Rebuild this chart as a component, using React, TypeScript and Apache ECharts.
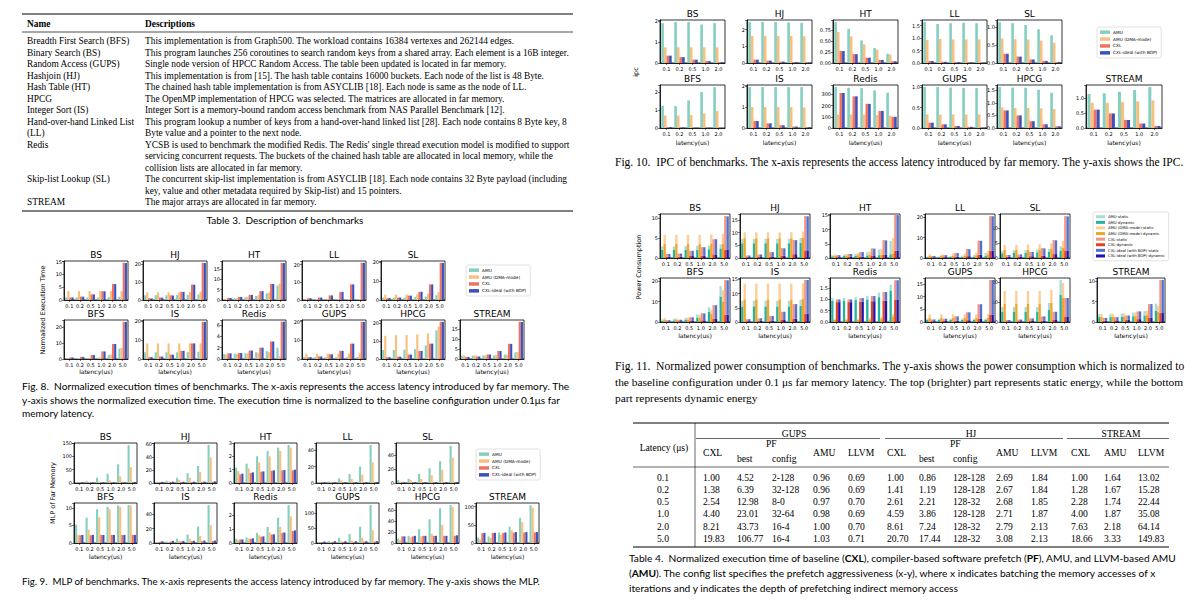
import React, { useEffect, useRef } from "react";
import * as echarts from "echarts";

// ---------- categories / labels ----------
const LAT6 = ["0.1", "0.2", "0.5", "1.0", "2.0", "5.0"];
const LAT5 = ["0.1", "0.2", "0.5", "1.0", "2.0"];
const ROW1 = ["BS", "HJ", "HT", "LL", "SL"];
const ROW2 = ["BFS", "IS", "Redis", "GUPS", "HPCG", "STREAM"];
const SERIES4 = ["AMU", "AMU (DMA-mode)", "CXL", "CXL-ideal (with BOP)"];
const SERIES8 = [
  "AMU-static", "AMU-dynamic", "AMU (DMA-mode)-static", "AMU (DMA-mode)-dynamic",
  "CXL-static", "CXL-dynamic", "CXL-ideal (with BOP)-static", "CXL-ideal (with BOP)-dynamic",
];

// ---------- Fig. 8: normalized execution time ----------
const execBS = { amu: [1.0, 1.0, 1.0, 1.0, 1.1, 1.3], dma: [3.5, 3.5, 3.5, 3.5, 3.5, 3.5], cxl: [1.0, 1.3, 2.2, 3.4, 6.2, 14.5], idl: [1.0, 1.3, 2.2, 3.4, 6.2, 14.4] };
const execHJ = { amu: [2.69, 2.67, 2.68, 2.71, 2.79, 3.08], dma: [4.3, 4.3, 4.3, 4.3, 4.4, 4.6], cxl: [1.0, 1.41, 2.61, 4.59, 8.61, 20.7], idl: [0.9, 1.3, 2.5, 4.5, 8.5, 20.6] };
const execHT = { amu: [0.4, 0.8, 1.3, 2.0, 3.2, 7.0], dma: [0.5, 0.9, 1.5, 2.3, 3.6, 8.0], cxl: [1.0, 1.5, 2.5, 4.3, 7.8, 18.0], idl: [1.0, 1.5, 2.5, 4.3, 7.8, 18.0] };
const execLL = { amu: [0.3, 0.3, 0.3, 0.3, 0.4, 0.4], dma: [0.5, 0.5, 0.5, 0.5, 0.6, 0.6], cxl: [1.0, 1.4, 2.6, 4.6, 8.8, 21.0], idl: [1.0, 1.4, 2.6, 4.6, 8.8, 21.0] };
const execSL = { amu: [1.2, 1.2, 1.3, 1.5, 1.8, 2.5], dma: [2.8, 2.8, 2.8, 3.0, 3.3, 4.2], cxl: [1.0, 1.3, 2.3, 4.3, 8.2, 19.5], idl: [1.0, 1.3, 2.3, 4.3, 8.2, 19.5] };
const execBFS = { amu: [0.3, 0.4, 0.5, 0.8, 2.5, 6.5], dma: [0.5, 0.6, 0.8, 1.0, 2.8, 7.0], cxl: [1.0, 1.3, 2.5, 4.8, 9.5, 23.5], idl: [1.0, 1.3, 2.5, 4.8, 9.5, 23.5] };
const execIS = { amu: [3.5, 3.5, 3.5, 3.5, 3.6, 3.8], dma: [8.2, 8.2, 8.2, 8.2, 8.2, 8.2], cxl: [1.0, 1.3, 2.3, 4.3, 8.2, 19.5], idl: [1.0, 1.3, 2.3, 4.3, 8.2, 19.5] };
const execRedis = { amu: [0.9, 0.95, 1.0, 1.2, 1.4, 2.0], dma: [0.8, 0.9, 1.0, 1.1, 1.2, 0.5], cxl: [1.0, 1.05, 1.5, 2.0, 3.1, 6.6], idl: [1.0, 1.05, 1.5, 2.0, 3.1, 6.6] };
const execGUPS = { amu: [0.96, 0.96, 0.97, 0.98, 1.0, 1.03], dma: [2.8, 2.8, 2.8, 2.8, 2.9, 3.0], cxl: [1.0, 1.38, 2.54, 4.4, 8.21, 19.83], idl: [1.0, 1.35, 2.5, 4.35, 8.2, 19.8] };
const execHPCG = { amu: [5.0, 5.0, 5.2, 5.5, 7.5, 16.0], dma: [13.0, 13.3, 13.5, 13.8, 14.3, 18.0], cxl: [1.0, 1.3, 2.5, 4.5, 8.6, 20.8], idl: [1.0, 1.3, 2.5, 4.5, 8.6, 20.8] };
const execSTREAM = { amu: [1.64, 1.67, 1.74, 1.87, 2.18, 3.33], dma: [1.8, 1.8, 1.9, 2.0, 2.2, 3.5], cxl: [1.0, 1.28, 2.28, 4.0, 7.63, 18.66], idl: [1.0, 1.25, 2.25, 4.0, 7.6, 18.6] };

// ---------- Fig. 9: MLP of far memory ----------
const mlpBS = { amu: [3, 7, 20, 35, 70, 142], dma: [1, 2, 5, 10, 25, 60], cxl: [1.5, 1.5, 1.8, 2, 2, 2.2], idl: [2, 2, 2.5, 3, 3, 3.5] };
const mlpHJ = { amu: [2, 3.5, 8, 15, 26, 58], dma: [1, 2, 5, 8, 17, 39], cxl: [1.2, 1.3, 1.5, 1.5, 1.6, 1.8], idl: [1.8, 2, 2, 2, 2.2, 2.5] };
const mlpHT = { amu: [1.15, 1.45, 2.0, 2.4, 2.65, 2.85], dma: [0.9, 1.1, 1.55, 2.0, 2.4, 2.65], cxl: [0.65, 0.75, 0.85, 0.92, 0.95, 0.95], idl: [0.7, 0.8, 0.87, 0.95, 0.97, 1.0] };
const mlpLL = { amu: [1, 2, 5.5, 11, 20, 46], dma: [0.5, 1, 3, 5, 10, 25], cxl: [0.6, 0.7, 0.8, 0.8, 0.8, 0.9], idl: [0.9, 1, 1, 1, 1.1, 1.2] };
const mlpSL = { amu: [4, 6, 13, 21, 31, 53], dma: [2, 4, 6, 11, 19, 36], cxl: [0.8, 0.9, 1, 1, 1, 1.1], idl: [1.1, 1.2, 1.2, 1.3, 1.3, 1.4] };
const mlpBFS = { amu: [5.2, 7.2, 9.6, 10.3, 10.7, 10.8], dma: [2.3, 3.8, 7.3, 9.6, 10.3, 10.7], cxl: [2.2, 2.2, 2.3, 2.3, 2.3, 2.3], idl: [2.3, 2.3, 2.3, 2.3, 2.3, 2.3] };
const mlpIS = { amu: [1.5, 2, 6, 12, 23, 53], dma: [1, 1.5, 3, 6, 10, 25], cxl: [2, 2, 2.2, 2.5, 2.5, 2.8], idl: [2.5, 3, 3, 3, 3.5, 3.5] };
const mlpRedis = { amu: [0.3, 0.4, 0.72, 1.15, 1.8, 2.7], dma: [0.2, 0.3, 0.55, 0.75, 1.15, 1.9], cxl: [0.25, 0.3, 0.45, 0.6, 0.72, 0.85], idl: [0.25, 0.33, 0.47, 0.62, 0.75, 0.9] };
const mlpGUPS = { amu: [3, 7, 17, 30, 55, 128], dma: [2, 3, 6, 9, 18, 43], cxl: [3, 4, 4, 4, 5, 5], idl: [5, 6, 6, 6, 6, 6] };
const mlpHPCG = { amu: [8, 13, 25, 43, 63, 69], dma: [5, 10, 12, 17, 33, 65], cxl: [12, 12, 13, 13, 13, 13], idl: [12, 13, 13, 13, 13, 14] };
const mlpSTREAM = { amu: [15, 18, 29, 45, 69, 104], dma: [10, 14, 22, 35, 57, 97], cxl: [27, 28, 28, 29, 29, 29], idl: [28, 28, 29, 30, 30, 30] };

// ---------- Fig. 10: IPC ----------
const ipcBS = { amu: [1.9, 1.95, 1.95, 1.83, 1.9], dma: [0.75, 0.75, 0.75, 0.75, 0.75], cxl: [0.35, 0.28, 0.16, 0.09, 0.04], idl: [0.35, 0.28, 0.16, 0.09, 0.04] };
const ipcHJ = { amu: [2.45, 2.45, 2.45, 2.43, 2.4], dma: [1.62, 1.62, 1.62, 1.62, 1.6], cxl: [0.2, 0.14, 0.08, 0.05, 0.03], idl: [0.2, 0.14, 0.08, 0.05, 0.03] };
const ipcHT = { amu: [0.92, 0.77, 0.51, 0.34, 0.21], dma: [0.7, 0.6, 0.42, 0.3, 0.19], cxl: [0.27, 0.2, 0.12, 0.07, 0.04], idl: [0.27, 0.2, 0.12, 0.07, 0.04] };
const ipcLL = { amu: [1.65, 1.57, 1.6, 1.62, 1.6], dma: [0.92, 0.97, 0.95, 0.95, 0.95], cxl: [0.08, 0.05, 0.03, 0.02, 0.01], idl: [0.08, 0.05, 0.03, 0.02, 0.01] };
const ipcSL = { amu: [1.15, 1.12, 1.07, 0.95, 0.78], dma: [0.69, 0.67, 0.66, 0.63, 0.57], cxl: [0.26, 0.18, 0.1, 0.06, 0.03], idl: [0.26, 0.18, 0.1, 0.06, 0.03] };
const ipcBFS = { amu: [1.25, 1.23, 1.55, 2.02, 2.3], dma: [0.7, 0.7, 0.73, 0.82, 0.95], cxl: [0.05, 0.03, 0.01, 0.01, 0.005], idl: [0.05, 0.03, 0.01, 0.01, 0.005] };
const ipcIS = { amu: [1.95, 1.95, 1.95, 1.95, 1.95], dma: [1.0, 1.0, 1.0, 1.0, 0.98], cxl: [0.33, 0.22, 0.13, 0.07, 0.04], idl: [0.33, 0.22, 0.13, 0.07, 0.04] };
const ipcRedis = { amu: [365, 358, 355, 335, 315], dma: [120, 120, 120, 115, 110], cxl: [312, 282, 215, 152, 100], idl: [312, 282, 215, 152, 100] };
const ipcGUPS = { amu: [1.0, 1.0, 0.99, 0.98, 0.98], dma: [0.33, 0.33, 0.33, 0.33, 0.33], cxl: [0.13, 0.09, 0.05, 0.03, 0.01], idl: [0.13, 0.09, 0.05, 0.03, 0.01] };
const ipcHPCG = { amu: [1.63, 1.61, 1.6, 1.52, 1.4], dma: [0.82, 0.8, 0.8, 0.78, 0.75], cxl: [0.7, 0.5, 0.27, 0.15, 0.07], idl: [0.7, 0.5, 0.27, 0.15, 0.07] };
const ipcSTREAM = { amu: [1.15, 1.17, 1.22, 1.28, 1.38], dma: [0.85, 0.85, 0.87, 0.9, 0.93], cxl: [0.62, 0.49, 0.27, 0.15, 0.07], idl: [0.62, 0.49, 0.27, 0.15, 0.07] };

// ---------- Fig. 11: power consumption (static on top of dynamic) ----------
const pwBS = { amuS: [0.9, 0.9, 0.9, 1.0, 0.9, 1.0], amuD: [2.0, 2.0, 2.1, 2.1, 2.2, 2.4], dmaS: [2.2, 2.2, 2.2, 2.2, 2.3, 2.4], dmaD: [3.6, 3.6, 3.6, 3.6, 3.6, 3.6], cxlS: [0.7, 0.8, 1.3, 2.1, 3.8, 8.5], cxlD: [0.3, 0.3, 0.5, 0.6, 0.9, 2.0], idlS: [0.7, 0.8, 1.3, 2.1, 3.8, 8.4], idlD: [0.3, 0.3, 0.5, 0.6, 0.9, 2.0] };
const pwHJ = { amuS: [1.7, 1.7, 1.7, 1.7, 1.7, 1.9], amuD: [5.8, 5.8, 5.8, 5.8, 5.8, 6.0], dmaS: [2.3, 2.3, 2.3, 2.3, 2.3, 2.4], dmaD: [7.8, 7.8, 7.8, 7.8, 7.8, 8.0], cxlS: [0.7, 1.0, 1.7, 3.0, 5.6, 13.5], cxlD: [0.3, 0.4, 0.6, 0.9, 1.5, 3.0], idlS: [0.7, 1.0, 1.7, 2.9, 5.5, 13.4], idlD: [0.3, 0.4, 0.6, 0.9, 1.5, 3.0] };
const pwHT = { amuS: [0.4, 0.5, 0.7, 1.1, 2.0, 4.7], amuD: [0.6, 0.7, 0.8, 0.9, 1.0, 1.3], dmaS: [0.4, 0.5, 0.7, 1.1, 2.0, 5.4], dmaD: [0.8, 0.9, 1.0, 1.1, 1.2, 1.6], cxlS: [0.7, 1.0, 1.6, 2.7, 5.2, 12.7], cxlD: [0.3, 0.4, 0.5, 0.7, 1.1, 2.5], idlS: [0.7, 1.0, 1.6, 2.6, 5.1, 12.6], idlD: [0.3, 0.4, 0.5, 0.7, 1.1, 2.5] };
const pwLL = { amuS: [0.3, 0.4, 0.5, 0.6, 0.8, 1.5], amuD: [0.4, 0.4, 0.5, 0.6, 0.7, 1.0], dmaS: [0.8, 0.7, 1.0, 1.0, 1.2, 1.8], dmaD: [1.0, 1.0, 1.2, 1.2, 1.4, 1.8], cxlS: [0.7, 1.0, 1.8, 3.5, 6.9, 16.9], cxlD: [0.3, 0.4, 0.6, 0.9, 1.6, 3.6], idlS: [0.7, 1.0, 1.8, 3.4, 6.8, 16.8], idlD: [0.3, 0.4, 0.6, 0.9, 1.6, 3.6] };
const pwSL = { amuS: [0.7, 0.8, 0.8, 0.9, 1.0, 1.4], amuD: [1.6, 1.8, 1.8, 1.9, 2.0, 2.5], dmaS: [1.6, 1.6, 1.7, 1.7, 1.9, 2.3], dmaD: [2.8, 2.8, 2.8, 2.9, 3.0, 3.4], cxlS: [0.6, 0.7, 1.4, 2.5, 4.7, 11.5], cxlD: [0.4, 0.5, 0.6, 0.8, 1.3, 2.5], idlS: [0.6, 0.7, 1.4, 2.4, 4.6, 11.4], idlD: [0.4, 0.5, 0.6, 0.8, 1.3, 2.5] };
const pwBFS = { amuS: [0.7, 0.8, 0.8, 1.5, 2.2, 5.0], amuD: [0.6, 0.8, 1.2, 2.2, 5.0, 12.5], dmaS: [1.0, 0.8, 0.9, 1.3, 2.0, 5.5], dmaD: [1.0, 1.0, 1.3, 2.0, 4.0, 10.0], cxlS: [0.7, 0.8, 1.8, 3.5, 6.8, 16.9], cxlD: [0.2, 0.3, 0.5, 0.8, 1.5, 3.6], idlS: [0.7, 0.8, 1.8, 3.4, 6.7, 16.8], idlD: [0.2, 0.3, 0.5, 0.8, 1.5, 3.6] };
const pwIS = { amuS: [2.0, 2.0, 2.0, 2.0, 2.0, 2.1], amuD: [5.5, 5.5, 5.5, 5.5, 5.5, 5.7], dmaS: [5.5, 5.5, 5.5, 5.5, 5.5, 5.5], dmaD: [8.0, 8.0, 8.0, 8.0, 8.0, 8.1], cxlS: [0.7, 0.9, 1.6, 2.9, 5.1, 12.0], cxlD: [0.3, 0.4, 0.5, 0.7, 1.2, 2.8], idlS: [0.7, 0.9, 1.6, 2.9, 5.1, 12.0], idlD: [0.3, 0.4, 0.5, 0.7, 1.2, 2.8] };
const pwRedis = { amuS: [0.14, 0.12, 0.13, 0.15, 0.2, 0.25], amuD: [0.93, 0.95, 0.97, 1.0, 1.1, 1.4], dmaS: [0.05, 0.05, 0.05, 0.06, 0.07, 0.1], dmaD: [0.1, 0.1, 0.1, 0.12, 0.15, 0.25], cxlS: [0.12, 0.12, 0.16, 0.23, 0.38, 0.85], cxlD: [0.88, 0.88, 0.9, 0.92, 0.95, 1.0], idlS: [0.12, 0.12, 0.16, 0.23, 0.38, 0.85], idlD: [0.88, 0.88, 0.9, 0.92, 0.95, 1.0] };
const pwGUPS = { amuS: [0.5, 0.5, 0.5, 0.5, 0.5, 0.5], amuD: [0.8, 0.8, 0.8, 0.8, 0.8, 0.8], dmaS: [1.4, 1.4, 1.4, 1.4, 1.4, 1.4], dmaD: [1.6, 1.6, 1.6, 1.6, 1.6, 1.7], cxlS: [0.7, 0.9, 1.7, 3.1, 5.8, 13.6], cxlD: [0.3, 0.4, 0.5, 0.7, 1.2, 2.9], idlS: [0.7, 0.9, 1.7, 3.1, 5.8, 13.6], idlD: [0.3, 0.4, 0.5, 0.7, 1.2, 2.9] };
const pwHPCG = { amuS: [2.5, 2.5, 2.5, 2.5, 3.5, 7.5], amuD: [5.0, 5.0, 5.0, 5.0, 6.0, 13.5], dmaS: [6.5, 6.5, 6.5, 6.5, 6.5, 7.5], dmaD: [9.0, 9.0, 9.0, 9.0, 9.5, 12.0], cxlS: [0.7, 0.8, 1.3, 2.1, 4.1, 9.5], cxlD: [0.3, 0.4, 0.5, 0.7, 1.0, 2.5], idlS: [0.7, 0.8, 1.3, 2.1, 4.1, 9.5], idlD: [0.3, 0.4, 0.5, 0.7, 1.0, 2.5] };
const pwSTREAM = { amuS: [0.7, 0.7, 0.8, 0.9, 1.1, 1.7], amuD: [1.2, 1.3, 1.3, 1.4, 1.6, 2.8], dmaS: [0.7, 0.7, 0.7, 0.9, 1.1, 1.5], dmaD: [1.3, 1.3, 1.4, 1.5, 1.7, 2.5], cxlS: [0.7, 0.8, 1.1, 1.9, 3.4, 8.1], cxlD: [0.3, 0.4, 0.5, 0.7, 1.0, 2.2], idlS: [0.7, 0.8, 1.1, 1.9, 3.4, 8.1], idlD: [0.3, 0.4, 0.5, 0.7, 1.0, 2.2] };

// ---------- Table 4 ----------
const T4_LAT = ["0.1", "0.2", "0.5", "1.0", "2.0", "5.0"];
const T4_GUPS_CXL = [1.0, 1.38, 2.54, 4.4, 8.21, 19.83];
const T4_GUPS_PFBEST = [4.52, 6.39, 12.98, 23.01, 43.73, 106.77];
const T4_GUPS_PFCFG = ["2-128", "32-128", "8-0", "32-64", "16-4", "16-4"];
const T4_GUPS_AMU = [0.96, 0.96, 0.97, 0.98, 1.0, 1.03];
const T4_GUPS_LLVM = [0.69, 0.69, 0.7, 0.69, 0.7, 0.71];
const T4_HJ_CXL = [1.0, 1.41, 2.61, 4.59, 8.61, 20.7];
const T4_HJ_PFBEST = [0.86, 1.19, 2.21, 3.86, 7.24, 17.44];
const T4_HJ_PFCFG = ["128-128", "128-128", "128-32", "128-128", "128-32", "128-32"];
const T4_HJ_AMU = [2.69, 2.67, 2.68, 2.71, 2.79, 3.08];
const T4_HJ_LLVM = [1.84, 1.84, 1.85, 1.87, 2.13, 2.13];
const T4_ST_CXL = [1.0, 1.28, 2.28, 4.0, 7.63, 18.66];
const T4_ST_AMU = [1.64, 1.67, 1.74, 1.87, 2.18, 3.33];
const T4_ST_LLVM = [13.02, 15.28, 22.44, 35.08, 64.14, 149.83];

// ---------- Table 3 ----------
const T3_ROWS: [string, string][] = [
  ["Breadth First Search (BFS)", "This implementation is from Graph500. The workload contains 16384 vertexes and 262144 edges."],
  ["Binary Search (BS)", "This program launches 256 coroutines to search random keys from a shared array. Each element is a 16B integer."],
  ["Random Access (GUPS)", "Single node version of HPCC Random Access. The table been updated is located in far memory."],
  ["Hashjoin (HJ)", "This implementation is from [15]. The hash table contains 16000 buckets. Each node of the list is 48 Byte."],
  ["Hash Table (HT)", "The chained hash table implementation is from ASYCLIB [18]. Each node is same as the node of LL."],
  ["HPCG", "The OpenMP implementation of HPCG was selected. The matrices are allocated in far memory."],
  ["Integer Sort (IS)", "Integer Sort is a memory-bound random access benchmark from NAS Parallel Benchmark [12]."],
  ["Hand-over-hand Linked List", "This program lookup a number of keys from a hand-over-hand linked list [28]. Each node contains 8 Byte key, 8"],
  ["(LL)", "Byte value and a pointer to the next node."],
  ["Redis", "YCSB is used to benchmark the modified Redis. The Redis' single thread execution model is modified to support"],
  ["", "servicing concurrent requests. The buckets of the chained hash table are allocated in local memory, while the"],
  ["", "collision lists are allocated in far memory."],
  ["Skip-list Lookup (SL)", "The concurrent skip-list implementation is from ASYCLIB [18]. Each node contains 32 Byte payload (including"],
  ["", "key, value and other metadata required by Skip-list) and 15 pointers."],
  ["STREAM", "The major arrays are allocated in far memory."],
];

// ---------- styles ----------
const DV = '"DejaVu Sans", sans-serif';
const SERIF = '"Liberation Serif", "DejaVu Serif", serif';
const SANS = 'Lato, "Liberation Sans", sans-serif';
const C4 = ["#84cfc1", "#f8bf7f", "#f07262", "#3852bd"];
const C8 = ["#a7ddd5", "#22b3a1", "#fccd94", "#f5a42a", "#f39583", "#df431f", "#4e71d5", "#1c12b3"];

type Quad = { amu: number[]; dma: number[]; cxl: number[]; idl: number[] };
type Oct = { amuS: number[]; amuD: number[]; dmaS: number[]; dmaD: number[]; cxlS: number[]; cxlD: number[]; idlS: number[]; idlD: number[] };

// panel axis settings: [yMax, interval, decimals]
const AX8: Record<string, [number, number, number]> = { BS: [15.2, 5, 0], HJ: [21.7, 10, 0], HT: [19, 5, 0], LL: [22, 10, 0], SL: [20.5, 10, 0], BFS: [24.7, 10, 0], IS: [20.5, 10, 0], Redis: [6.9, 2, 0], GUPS: [20.8, 10, 0], HPCG: [21.8, 10, 0], STREAM: [19.6, 5, 0] };
const AX9: Record<string, [number, number, number]> = { BS: [150.5, 50, 0], HJ: [61, 20, 0], HT: [3.0, 1, 0], LL: [48.5, 20, 0], SL: [57, 20, 0], BFS: [11.4, 5, 0], IS: [56, 20, 0], Redis: [2.85, 1, 0], GUPS: [135, 50, 0], HPCG: [72.5, 20, 0], STREAM: [110, 50, 0] };
const AX10: Record<string, [number, number, number]> = { BS: [2.05, 1, 0], HJ: [2.57, 1, 0], HT: [0.97, 0.25, 2], LL: [1.73, 0.5, 1], SL: [1.21, 0.5, 1], BFS: [2.42, 1, 0], IS: [2.05, 1, 0], Redis: [383, 100, 0], GUPS: [1.05, 0.5, 1], HPCG: [1.71, 0.5, 1], STREAM: [1.45, 0.5, 1] };
const AX11: Record<string, [number, number, number]> = { BS: [11, 5, 0], HJ: [17.3, 5, 0], HT: [15.5, 5, 0], LL: [21.5, 10, 0], SL: [14.7, 5, 0], BFS: [21.5, 10, 0], IS: [15.5, 5, 0], Redis: [1.95, 0.5, 1], GUPS: [17.3, 5, 0], HPCG: [22, 10, 0], STREAM: [10.8, 5, 0] };

const D8: Record<string, Quad> = { BS: execBS, HJ: execHJ, HT: execHT, LL: execLL, SL: execSL, BFS: execBFS, IS: execIS, Redis: execRedis, GUPS: execGUPS, HPCG: execHPCG, STREAM: execSTREAM };
const D9: Record<string, Quad> = { BS: mlpBS, HJ: mlpHJ, HT: mlpHT, LL: mlpLL, SL: mlpSL, BFS: mlpBFS, IS: mlpIS, Redis: mlpRedis, GUPS: mlpGUPS, HPCG: mlpHPCG, STREAM: mlpSTREAM };
const D10: Record<string, Quad> = { BS: ipcBS, HJ: ipcHJ, HT: ipcHT, LL: ipcLL, SL: ipcSL, BFS: ipcBFS, IS: ipcIS, Redis: ipcRedis, GUPS: ipcGUPS, HPCG: ipcHPCG, STREAM: ipcSTREAM };
const D11: Record<string, Oct> = { BS: pwBS, HJ: pwHJ, HT: pwHT, LL: pwLL, SL: pwSL, BFS: pwBFS, IS: pwIS, Redis: pwRedis, GUPS: pwGUPS, HPCG: pwHPCG, STREAM: pwSTREAM };

// figure layouts (pixels)
const L8 = { cols1: [64, 143, 222, 302, 381], cols2: [64, 143, 222, 302, 381, 460], w: 64, w6: 64, tops: [261, 320], h: 39, nameGap: 9 };
const L9 = { cols1: [74, 154, 234, 316, 396], cols2: [74, 154, 234, 316, 396, 476], w: 63, w6: 63, tops: [443, 503], h: 40, nameGap: 10 };
const L10 = { cols1: [660, 747, 833, 922, 997], cols2: [660, 747, 833, 922, 997, 1086], w: 65, w6: 76, tops: [20, 85], h: 43, nameGap: 11 };
const L11 = { cols1: [660, 740, 830, 925, 1000], cols2: [660, 740, 830, 925, 1000, 1097], w: 70, w6: 68, tops: [214, 278], h: 44, nameGap: 10 };

function txt(x: number, y: number, text: string, o: any = {}) {
  const align = o.align || "left";
  return {
    type: "text", x, y, silent: true, rotation: o.rot || 0,
    style: {
      text, fill: "#000", fontFamily: o.ff || SERIF, fontSize: o.fs || 9, fontWeight: o.fw || "normal",
      align, verticalAlign: "middle", textAlign: align, textVerticalAlign: "middle", rich: o.rich,
    },
  };
}
function hline(x1: number, x2: number, y: number, w: number) {
  return { type: "line", silent: true, shape: { x1, y1: y, x2, y2: y }, style: { stroke: "#000", lineWidth: w } };
}
function vline(x: number, y1: number, y2: number, w: number) {
  return { type: "line", silent: true, shape: { x1: x, y1, x2: x, y2 }, style: { stroke: "#000", lineWidth: w } };
}

function makeOption() {
  const grid: any[] = [], xAxis: any[] = [], yAxis: any[] = [], series: any[] = [], graphic: any[] = [], legend: any[] = [];

  const addPanel = (left: number, top: number, w: number, h: number, title: string, cats: string[], ax: [number, number, number], showName: boolean, nameGap: number, ser: { name: string; color: string; data: number[]; stack?: string }[]) => {
    const i = grid.length;
    const [yMax, yInt, dec] = ax;
    grid.push({ left, top, width: w, height: h, show: true, borderColor: "#000", borderWidth: 0.8, backgroundColor: "#fff" });
    xAxis.push({
      type: "category", gridIndex: i, data: cats,
      axisLine: { show: true, lineStyle: { color: "#000", width: 0.8 } },
      axisTick: { show: true, alignWithLabel: true, length: 2, lineStyle: { color: "#000", width: 0.5 } },
      axisLabel: { interval: 0, fontSize: 5, margin: 3, color: "#000", fontFamily: DV },
      name: showName ? "latency(us)" : "", nameLocation: "middle", nameGap,
      nameTextStyle: { fontSize: 6, fontFamily: DV, color: "#000" },
    });
    yAxis.push({
      type: "value", gridIndex: i, min: 0, max: yMax, interval: yInt,
      axisLine: { show: true, lineStyle: { color: "#000", width: 0.8 } },
      axisTick: { show: true, length: 2, lineStyle: { color: "#000", width: 0.5 } },
      splitLine: { show: false },
      axisLabel: {
        fontSize: 5, margin: 2, color: "#000", fontFamily: DV, showMaxLabel: true,
        formatter: (v: number) => {
          const k = v / yInt;
          if (Math.abs(k - Math.round(k)) > 1e-6) return "";
          return v.toFixed(dec);
        },
      },
    });
    graphic.push(txt(left + w / 2, top - 6.5, title, { ff: DV, fs: 9, align: "center" }));
    ser.forEach((s) => {
      series.push({
        type: "bar", name: s.name, xAxisIndex: i, yAxisIndex: i, data: s.data,
        stack: s.stack ? `${s.stack}-${i}` : undefined,
        itemStyle: { color: s.color }, barGap: "0%", barCategoryGap: "20%", silent: true,
      });
    });
  };

  const quadSeries = (d: Quad) => [
    { name: SERIES4[0], color: C4[0], data: d.amu },
    { name: SERIES4[1], color: C4[1], data: d.dma },
    { name: SERIES4[2], color: C4[2], data: d.cxl },
    { name: SERIES4[3], color: C4[3], data: d.idl },
  ];
  const octSeries = (d: Oct) => [
    { name: SERIES8[1], color: C8[1], data: d.amuD, stack: "a" },
    { name: SERIES8[0], color: C8[0], data: d.amuS, stack: "a" },
    { name: SERIES8[3], color: C8[3], data: d.dmaD, stack: "b" },
    { name: SERIES8[2], color: C8[2], data: d.dmaS, stack: "b" },
    { name: SERIES8[5], color: C8[5], data: d.cxlD, stack: "c" },
    { name: SERIES8[4], color: C8[4], data: d.cxlS, stack: "c" },
    { name: SERIES8[7], color: C8[7], data: d.idlD, stack: "d" },
    { name: SERIES8[6], color: C8[6], data: d.idlS, stack: "d" },
  ];

  const addFigure = (L: any, AX: any, D: any, cats: string[], oct: boolean) => {
    ROW1.forEach((b, j) => addPanel(L.cols1[j], L.tops[0], L.w, L.h, b, cats, AX[b], false, L.nameGap, oct ? octSeries(D[b]) : quadSeries(D[b])));
    ROW2.forEach((b, j) => addPanel(L.cols2[j], L.tops[1], j === 5 ? L.w6 : L.w, L.h, b, cats, AX[b], true, L.nameGap, oct ? octSeries(D[b]) : quadSeries(D[b])));
  };
  addFigure(L8, AX8, D8, LAT6, false);
  addFigure(L9, AX9, D9, LAT6, false);
  addFigure(L10, AX10, D10, LAT5, false);
  addFigure(L11, AX11, D11, LAT6, true);

  const mkLegend = (left: number, top: number, names: string[], fs: number, iw: number, ih: number, gap: number, lh: number) => ({
    left, top, orient: "vertical", selectedMode: false, data: names.map((n) => ({ name: n, icon: "rect" })),
    itemWidth: iw, itemHeight: ih, itemGap: gap, padding: [2.5, 4, 2.5, 3],
    borderColor: "#cfcfcf", borderWidth: 0.6, borderRadius: 2, backgroundColor: "#fff",
    textStyle: { fontSize: fs, fontFamily: DV, color: "#000", lineHeight: lh, padding: [0, 0, 0, -2] },
  });
  legend.push(mkLegend(466, 265, SERIES4, 4.3, 10, 3.5, 1.6, 5.3));
  legend.push(mkLegend(476, 449, SERIES4, 4.3, 10, 3.5, 1.6, 5.3));
  legend.push(mkLegend(1097, 27, SERIES4, 4.3, 10, 3.5, 1.6, 5.3));
  legend.push(mkLegend(1093, 212, SERIES8, 3.8, 9, 3, 1.1, 4.5));

  // figure y-axis labels
  graphic.push(txt(43, 310, "Normalized Execution Time", { ff: DV, fs: 6.5, align: "center", rot: Math.PI / 2 }));
  graphic.push(txt(53, 493, "MLP of Far Memory", { ff: DV, fs: 6.5, align: "center", rot: Math.PI / 2 }));
  graphic.push(txt(636, 72, "ipc", { ff: DV, fs: 6.5, align: "center", rot: Math.PI / 2 }));
  graphic.push(txt(639, 267, "Power Consumption", { ff: DV, fs: 6.5, align: "center", rot: Math.PI / 2 }));

  // ---------- Table 3 ----------
  const t3L = 22, t3R = 573, t3Name = 27, t3Desc = 145, t3fs = 9.4;
  graphic.push(hline(t3L, t3R, 14, 1.2));
  graphic.push(txt(t3Name, 23.5, "Name", { fw: "bold", fs: t3fs }));
  graphic.push(txt(t3Desc, 23.5, "Descriptions", { fw: "bold", fs: t3fs }));
  graphic.push(hline(t3L, t3R, 32, 0.7));
  const t3Y = [41, 52.5, 64, 75.5, 87, 98.5, 110, 121.5, 133, 144.5, 156, 167.5, 179, 190.5, 202];
  T3_ROWS.forEach(([n, d], k) => {
    if (n) graphic.push(txt(t3Name, t3Y[k], n, { fs: t3fs }));
    graphic.push(txt(t3Desc, t3Y[k], d, { fs: t3fs }));
  });
  graphic.push(hline(t3L, t3R, 211, 1.2));
  graphic.push(txt(285, 219.5, "Table 3.  Description of benchmarks", { ff: SANS, fs: 10, align: "center" }));

  // ---------- Figure captions ----------
  graphic.push(txt(22, 386, "Fig. 8.  Normalized execution times of benchmarks. The x-axis represents the access latency introduced by far memory. The", { ff: SANS, fs: 10.2 }));
  graphic.push(txt(22, 399.5, "y-axis shows the normalized execution time. The execution time is normalized to the baseline configuration under 0.1\u03bcs far", { ff: SANS, fs: 10 }));
  graphic.push(txt(22, 413, "memory latency.", { ff: SANS, fs: 10 }));
  graphic.push(txt(22, 581, "Fig. 9.  MLP of benchmarks. The x-axis represents the access latency introduced by far memory. The y-axis shows the MLP.", { ff: SANS, fs: 9.7 }));
  const capR = 11.4;
  graphic.push(txt(615, 162, "Fig. 10.  IPC of benchmarks. The x-axis represents the access latency introduced by far memory. The y-axis shows the IPC.", { fs: 11.5 }));
  graphic.push(txt(615, 366, "Fig. 11.  Normalized power consumption of benchmarks. The y-axis shows the power consumption which is normalized to", { fs: 11.6 }));
  graphic.push(txt(615, 382, "the baseline configuration under 0.1 \u03bcs far memory latency. The top (brighter) part represents static energy, while the bottom", { fs: capR }));
  graphic.push(txt(615, 398, "part represents dynamic energy", { fs: capR }));

  // ---------- Table 4 ----------
  const tL = 633, tR = 1169, vX = 695, tfs = 9.6;
  graphic.push(hline(tL, tR, 423, 1.2));
  graphic.push(txt(794, 433, "GUPS", { fs: tfs, align: "center" }));
  graphic.push(txt(971, 433, "HJ", { fs: tfs, align: "center" }));
  graphic.push(txt(1121, 433, "STREAM", { fs: tfs, align: "center" }));
  graphic.push(hline(vX + 1, 880, 438.5, 0.6));
  graphic.push(hline(885, 1063, 438.5, 0.6));
  graphic.push(hline(1067, tR, 438.5, 0.6));
  graphic.push(txt(664, 447, "Latency (\u03bcs)", { fs: tfs, align: "center" }));
  const colX = [703, 737, 772, 813, 848, 887, 919, 953, 996, 1031, 1071, 1104, 1138];
  const sub = ["CXL", "", "", "AMU", "LLVM", "CXL", "", "", "AMU", "LLVM", "CXL", "AMU", "LLVM"];
  sub.forEach((s, k) => { if (s) graphic.push(txt(colX[k], 452, s, { fs: tfs })); });
  graphic.push(txt(766, 443, "PF", { fs: tfs }));
  graphic.push(txt(colX[1], 458.5, "best", { fs: tfs }));
  graphic.push(txt(colX[2], 458.5, "config", { fs: tfs }));
  graphic.push(txt(950, 443, "PF", { fs: tfs }));
  graphic.push(txt(colX[6], 458.5, "best", { fs: tfs }));
  graphic.push(txt(colX[7], 458.5, "config", { fs: tfs }));
  graphic.push(hline(tL, tR, 467, 0.6));
  graphic.push(vline(vX, 423, 547, 0.6));
  const f2 = (a: number[]) => a.map((v) => v.toFixed(2));
  const cols: string[][] = [
    f2(T4_GUPS_CXL), f2(T4_GUPS_PFBEST), T4_GUPS_PFCFG, f2(T4_GUPS_AMU), f2(T4_GUPS_LLVM),
    f2(T4_HJ_CXL), f2(T4_HJ_PFBEST), T4_HJ_PFCFG, f2(T4_HJ_AMU), f2(T4_HJ_LLVM),
    f2(T4_ST_CXL), f2(T4_ST_AMU), f2(T4_ST_LLVM),
  ];
  T4_LAT.forEach((lat, r) => {
    const y = 477 + r * 12.3;
    graphic.push(txt(663, y, lat, { fs: tfs, align: "center" }));
    cols.forEach((c, k) => graphic.push(txt(colX[k], y, c[r], { fs: tfs })));
  });
  graphic.push(hline(tL, tR, 547, 1.2));
  const cfs = 10.2;
  const rich = { b: { fontWeight: "bold", fontFamily: SANS, fontSize: cfs } };
  graphic.push(txt(629, 558, "Table 4.  Normalized execution time of baseline ({b|CXL}), compiler-based software prefetch ({b|PF}), AMU, and LLVM-based AMU", { ff: SANS, fs: cfs, rich }));
  graphic.push(txt(629, 573, "({b|AMU}). The config list specifies the prefetch aggressiveness (x-y), where x indicates batching the memory accesses of x", { ff: SANS, fs: cfs, rich }));
  graphic.push(txt(629, 588, "iterations and y indicates the depth of prefetching indirect memory access", { ff: SANS, fs: cfs }));

  return {
    animation: false,
    backgroundColor: "#fff",
    grid, xAxis, yAxis, series, legend,
    graphic: { elements: graphic },
  };
}

export default function App() {
  const ref = useRef<HTMLDivElement>(null);
  useEffect(() => {
    const chart = echarts.init(ref.current!, undefined, { renderer: "svg", width: 1200, height: 600 });
    chart.setOption(makeOption() as any);
    return () => chart.dispose();
  }, []);
  return <div ref={ref} style={{ position: "absolute", left: 0, top: 0, width: 1200, height: 600, background: "#fff" }} />;
}
